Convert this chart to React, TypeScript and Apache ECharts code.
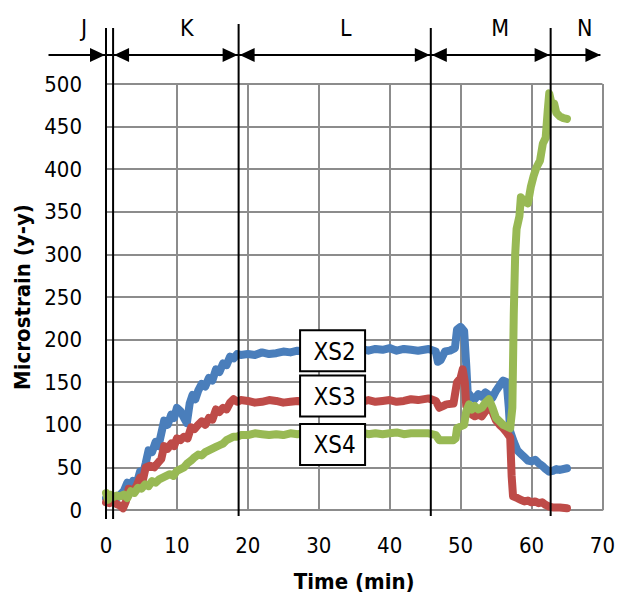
import React, { useEffect, useRef } from "react";
import * as echarts from "echarts";

// Loading phases: boundaries (min) and their names
const phaseBounds = [0, 1, 18.7, 45.8, 62.7];
const phaseNames = ["J", "K", "L", "M", "N"];
const phaseLabelTimes = [-3.1, 11.4, 33.8, 55.6, 67.5];

// Gauge readings [time (min), microstrain]
const xs2: number[][] = [
  [0, 14], [0.5, 12], [1, 10], [1.5, 14], [2, 18], [2.5, 22], [3, 32], [3.4, 28], [3.8, 34], [4.3, 30],
  [4.8, 45], [5.2, 42], [5.6, 55], [6, 70], [6.5, 68], [7, 80], [7.4, 75], [7.8, 90], [8.2, 105], [8.7, 100],
  [9.2, 112], [9.6, 108], [10, 120], [10.5, 116], [11, 108], [11.4, 102], [11.8, 125], [12.2, 135], [12.6, 130],
  [13, 140], [13.5, 148], [14, 145], [14.5, 155], [15, 152], [15.5, 165], [16, 162], [16.5, 172], [17, 170],
  [17.5, 180], [18, 178], [18.5, 183], [19, 182], [20, 183], [21, 182], [22, 185], [23, 183], [24, 184],
  [25, 186], [26, 185], [27, 187], [28, 186], [30, 188], [31, 190], [32, 188], [33, 189], [34, 188],
  [35, 190], [36, 189], [37, 187], [38, 189], [39, 188], [40, 190], [41, 187], [42, 189], [43, 188],
  [44, 187], [45.5, 189], [46.5, 186], [46.8, 174], [47.2, 176], [47.8, 186], [48.5, 187], [49.2, 190],
  [49.5, 212], [50, 215], [50.5, 210], [50.8, 170], [51, 138], [51.5, 133], [52, 130], [52.5, 136], [53, 133],
  [53.5, 138], [54, 135], [54.5, 132], [55, 140], [55.5, 146], [56, 152], [56.5, 150], [56.8, 120], [57, 92],
  [57.5, 80], [58, 70], [58.5, 66], [59, 62], [59.5, 58], [60, 57], [60.5, 59], [61, 55], [61.5, 52],
  [62, 48], [62.5, 45], [63, 46], [63.5, 48], [64, 47], [65, 49],
];

const xs3: number[][] = [
  [0, 9], [0.5, 8], [1, 10], [1.5, 7], [2, 5], [2.4, 2], [2.8, 10], [3.2, 25], [3.8, 22], [4.3, 28],
  [4.8, 38], [5.2, 35], [5.6, 50], [6.2, 52], [6.8, 50], [7.4, 56], [7.8, 60], [8.2, 75], [8.7, 72],
  [9.2, 78], [9.6, 75], [10, 84], [10.5, 82], [11, 86], [11.5, 84], [12, 97], [12.5, 95], [13, 100],
  [13.5, 104], [14, 100], [14.5, 108], [15, 106], [15.5, 118], [16, 115], [16.5, 120], [17, 118],
  [17.5, 126], [18, 130], [18.5, 127], [19, 129], [20, 128], [21, 126], [22, 127], [23, 129], [24, 128],
  [25, 126], [26, 127], [27, 128], [28, 126], [30, 128], [31, 127], [32, 129], [33, 127], [34, 129],
  [35, 128], [36, 127], [37, 129], [38, 127], [39, 128], [40, 129], [41, 127], [42, 128], [43, 130],
  [44, 129], [45.5, 131], [46.5, 128], [47, 120], [47.5, 122], [48, 124], [49, 125], [49.5, 150], [50, 155],
  [50.3, 165], [50.6, 150], [50.8, 122], [51.2, 118], [51.6, 112], [52, 110], [52.5, 112], [53, 110],
  [53.5, 116], [54, 120], [54.5, 115], [55, 105], [55.5, 100], [56, 96], [56.5, 91], [57, 85], [57.2, 40],
  [57.4, 16], [58, 14], [58.5, 12], [59, 10], [59.5, 11], [60, 9], [60.5, 10], [61, 8], [61.5, 9], [62, 6],
  [62.5, 4], [63, 3], [64, 3], [65, 2],
];

const xs4: number[][] = [
  [0, 20], [0.3, 12], [0.6, 18], [1, 15], [1.5, 17], [2, 16], [2.5, 18], [3, 14], [3.5, 22], [4, 20],
  [4.5, 26], [5, 25], [5.5, 30], [6, 28], [6.5, 34], [7, 32], [7.5, 36], [8, 38], [8.5, 40], [9, 42],
  [9.5, 40], [10, 46], [10.5, 48], [11, 50], [11.5, 55], [12, 58], [12.5, 62], [13, 65], [13.5, 64],
  [14, 68], [14.5, 70], [15, 72], [15.5, 74], [16, 76], [16.5, 78], [17, 82], [17.5, 84], [18, 86],
  [18.5, 86], [19, 88], [20, 88], [21, 90], [22, 89], [23, 88], [24, 89], [25, 88], [26, 90], [27, 89],
  [28, 90], [30, 89], [31, 91], [32, 90], [33, 89], [34, 90], [35, 89], [36, 91], [37, 89], [38, 90],
  [39, 89], [40, 90], [41, 91], [42, 89], [43, 90], [44, 90], [45.5, 90], [46.5, 88], [47, 82], [48, 82],
  [49, 82], [49.3, 84], [49.5, 96], [50, 98], [50.5, 100], [50.8, 116], [51.2, 124], [51.6, 118], [52, 122],
  [52.5, 118], [53, 120], [53.5, 126], [54, 130], [54.5, 120], [55, 108], [55.5, 104], [56, 100],
  [56.5, 98], [57, 96], [57.3, 120], [57.5, 230], [57.7, 300], [57.9, 330], [58.3, 345], [58.5, 367],
  [59, 362], [59.5, 360], [59.9, 379], [60.3, 392], [60.7, 402], [61.2, 410], [61.6, 430], [62, 437],
  [62.3, 470], [62.5, 489], [62.8, 478], [63.2, 477], [63.5, 466], [64, 462], [64.5, 460], [65, 459],
];

// Series tags placed on the plateau of each line
const seriesNames = ["XS2", "XS3", "XS4"];
const tagTime = 31.95;
const tagStrain = [187, 133.7, 77];

const FONT = "'DejaVu Sans Condensed', 'Liberation Sans Narrow', 'Arial Narrow', sans-serif";
const GRID_COLOR = "#8c8c8c";

export default function App() {
  const ref = useRef<HTMLDivElement>(null);

  useEffect(() => {
    if (!ref.current) return;
    const chart = echarts.init(ref.current, undefined, { renderer: "svg" });

    const lineSeries = (name: string, data: number[][], color: string) => ({
      name,
      type: "line",
      data,
      showSymbol: false,
      symbol: "none",
      smooth: false,
      lineStyle: { color, width: 8, cap: "round", join: "round" },
    });

    chart.setOption({
      animation: false,
      backgroundColor: "#fff",
      grid: { left: 106, right: 13, top: 84, bottom: 86, containLabel: false },
      xAxis: {
        type: "value",
        min: 0,
        max: 70,
        interval: 10,
        name: "Time (min)",
        nameLocation: "middle",
        nameGap: 60,
        nameTextStyle: { fontFamily: FONT, fontSize: 22, fontWeight: "bold", color: "#000" },
        axisLine: { show: true, lineStyle: { color: GRID_COLOR, width: 2 } },
        axisTick: { show: false },
        axisLabel: { fontFamily: FONT, fontSize: 22, color: "#000", margin: 24 },
        splitLine: { show: true, lineStyle: { color: GRID_COLOR, width: 2 } },
      },
      yAxis: {
        type: "value",
        min: 0,
        max: 500,
        interval: 50,
        name: "Microstrain (y-y)",
        nameLocation: "middle",
        nameRotate: 90,
        nameGap: 70,
        nameTextStyle: { fontFamily: FONT, fontSize: 22, fontWeight: "bold", color: "#000" },
        axisLine: { show: false },
        axisTick: { show: false },
        axisLabel: { fontFamily: FONT, fontSize: 22, color: "#000", margin: 24 },
        splitLine: { show: true, lineStyle: { color: GRID_COLOR, width: 2 } },
      },
      series: [
        lineSeries("XS2", xs2, "#4a7ebb"),
        lineSeries("XS3", xs3, "#be4b48"),
        lineSeries("XS4", xs4, "#98b954"),
      ],
    });

    // Phase markers, arrows and series tags, positioned through the axes
    const px = (t: number) => chart.convertToPixel({ gridIndex: 0 }, [t, 0])[0];
    const py = (v: number) => chart.convertToPixel({ gridIndex: 0 }, [0, v])[1];
    const arrowY = 55;
    const head = 15;
    const half = 7;
    const bottomY = py(0);
    const elements: any[] = [];
    const stroke = { stroke: "#000", lineWidth: 2 };

    const arrowStart = 48.5;
    const arrowEnd = px(70) - 2;
    elements.push({
      type: "line",
      z: 50,
      shape: { x1: arrowStart, y1: arrowY, x2: arrowEnd, y2: arrowY },
      style: stroke,
    });

    const rightHead = (x: number) => ({
      type: "polygon",
      z: 51,
      shape: { points: [[x, arrowY], [x - head, arrowY - half], [x - head, arrowY + half]] },
      style: { fill: "#000" },
    });
    const leftHead = (x: number) => ({
      type: "polygon",
      z: 51,
      shape: { points: [[x, arrowY], [x + head, arrowY - half], [x + head, arrowY + half]] },
      style: { fill: "#000" },
    });

    phaseBounds.forEach((b, i) => {
      const x = px(b);
      const top = i === 2 ? 24 : 28;
      const bottom = i < 2 ? bottomY + 9 : bottomY + 6;
      elements.push({
        type: "line",
        z: 50,
        shape: { x1: x, y1: top, x2: x, y2: bottom },
        style: stroke,
      });
      if (i !== 1) elements.push(rightHead(x - 1));
      if (i >= 1 && i <= 3) elements.push(leftHead(x + 1));
    });
    elements.push(rightHead(arrowEnd));

    phaseNames.forEach((n, i) => {
      elements.push({
        type: "text",
        z: 52,
        x: px(phaseLabelTimes[i]),
        y: 28,
        style: {
          text: n,
          fontFamily: FONT,
          fontSize: 23,
          fill: "#000",
          align: "center",
          verticalAlign: "middle",
        },
      });
    });

    const boxW = 65;
    const boxH = 41;
    seriesNames.forEach((n, i) => {
      const cx = px(tagTime);
      const cy = py(tagStrain[i]);
      elements.push({
        type: "rect",
        z: 60,
        shape: { x: cx - boxW / 2, y: cy - boxH / 2, width: boxW, height: boxH },
        style: { fill: "#fff", stroke: "#000", lineWidth: 2 },
      });
      elements.push({
        type: "text",
        z: 61,
        x: cx + 2,
        y: cy + 1,
        style: {
          text: n,
          fontFamily: FONT,
          fontSize: 24,
          fill: "#000",
          align: "center",
          verticalAlign: "middle",
        },
      });
    });

    chart.setOption({ graphic: elements });

    return () => chart.dispose();
  }, []);

  return (
    <div
      ref={ref}
      style={{ position: "absolute", left: 0, top: 0, width: 618, height: 597 }}
    />
  );
}
